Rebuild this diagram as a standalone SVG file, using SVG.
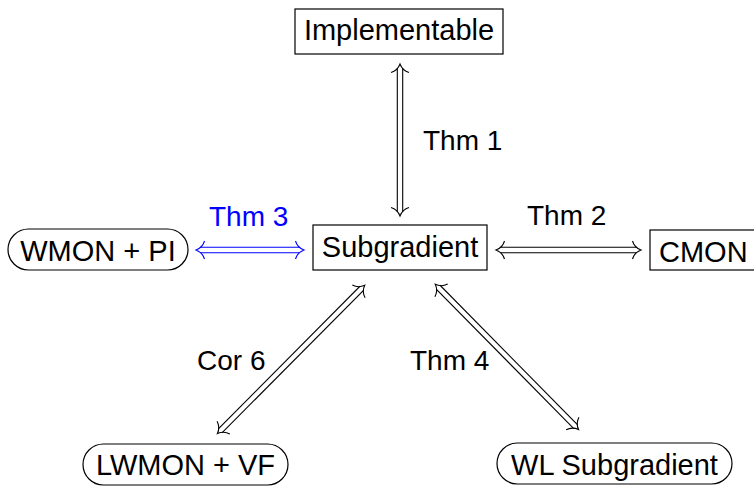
<svg xmlns="http://www.w3.org/2000/svg" width="754" height="486" viewBox="0 0 754 486">
<defs>
<style>
text{font-family:"Liberation Sans",Arial,Helvetica,sans-serif;font-size:28px;fill:#000}
.nt{font-size:29px}
.box{fill:#fff;stroke:#000;stroke-width:1.2}
.ct{text-anchor:middle}
.outer{stroke:#000;stroke-width:6.5;fill:none}
.inner{stroke:#fff;stroke-width:4.3;fill:none}
.ah{fill:none;stroke:#000;stroke-width:1.1}
.blue .outer{stroke:#0000ff}
.blue .ah{stroke:#0000ff}
.blue text{fill:#0000ff}
</style>
<path id="head" d="M -7.5,-9 C -6.5,-5.5 -3,-1.5 1,0 C -3,1.5 -6.5,5.5 -7.5,9"/>
</defs>
<g id="nodes">
<g id="implementable"><rect class="box" x="295" y="9" width="208" height="45"/><text class="ct nt" x="399" y="40">Implementable</text></g>
<g id="subgradient"><rect class="box" x="313" y="225" width="174" height="45"/><text class="ct nt" x="400" y="257">Subgradient</text></g>
<g id="cmon"><rect class="box" x="650" y="230" width="112" height="40"/><text class="nt" x="659" y="262">CMON</text></g>
<g id="wmon-pi"><rect class="box" x="8" y="229" width="180" height="41" rx="20.5"/><text class="ct nt" x="98" y="261">WMON + PI</text></g>
<g id="lwmon-vf"><rect class="box" x="83" y="444" width="205" height="41" rx="20.5"/><text class="ct nt" x="185.5" y="475">LWMON + VF</text></g>
<g id="wl-subgradient"><rect class="box" x="497" y="443" width="235" height="41" rx="20.5"/><text class="ct nt" x="614.5" y="475">WL Subgradient</text></g>
</g>
<g id="connectors">
<g transform="translate(400,65) rotate(90)">
<line class="outer" x1="3" y1="0" x2="147" y2="0"/><line class="inner" x1="2" y1="0" x2="148" y2="0"/>
<use href="#head" class="ah" transform="rotate(180)"/><use href="#head" class="ah" transform="translate(150,0)"/>
</g>
<text x="423" y="150">Thm 1</text>
<g transform="translate(497,250)">
<line class="outer" x1="3" y1="0" x2="140" y2="0"/><line class="inner" x1="2" y1="0" x2="141" y2="0"/>
<use href="#head" class="ah" transform="rotate(180)"/><use href="#head" class="ah" transform="translate(143,0)"/>
</g>
<text x="527" y="225">Thm 2</text>
<g class="blue">
<g transform="translate(197,250)">
<line class="outer" x1="3" y1="0" x2="103" y2="0"/><line class="inner" x1="2" y1="0" x2="104" y2="0"/>
<use href="#head" class="ah" transform="rotate(180)"/><use href="#head" class="ah" transform="translate(106,0)"/>
</g>
<text x="209" y="226">Thm 3</text>
</g>
<g transform="translate(364,286) rotate(134.8)">
<line class="outer" x1="3" y1="0" x2="204" y2="0"/><line class="inner" x1="2" y1="0" x2="205" y2="0"/>
<use href="#head" class="ah" transform="rotate(180)"/><use href="#head" class="ah" transform="translate(207,0)"/>
</g>
<text x="197" y="370">Cor 6</text>
<g transform="translate(436,285) rotate(45.4)">
<line class="outer" x1="3" y1="0" x2="199" y2="0"/><line class="inner" x1="2" y1="0" x2="200" y2="0"/>
<use href="#head" class="ah" transform="rotate(180)"/><use href="#head" class="ah" transform="translate(202,0)"/>
</g>
<text x="410" y="370">Thm 4</text>
</g>
</svg>
